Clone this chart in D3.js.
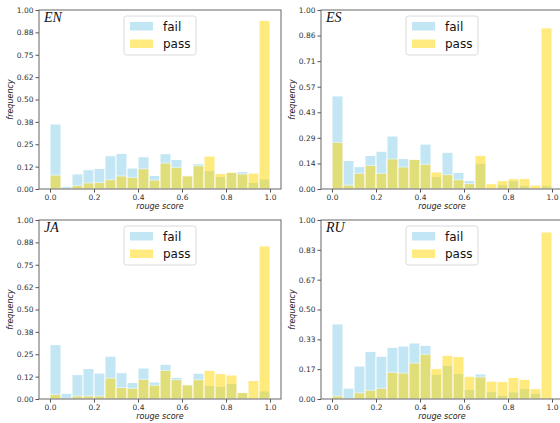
<!DOCTYPE html>
<html>
<head>
<meta charset="utf-8">
<script src="https://cdn.jsdelivr.net/npm/d3@7"></script>
<style>
  body { margin: 0; background: #fff; }
  svg { display: block; }
  .tick text { font-family: "DejaVu Sans", sans-serif; font-size: 7.5px; fill: #333; }
  .tick line { stroke: #555; }
  .lbl { font-family: "DejaVu Sans", sans-serif; font-size: 8px; font-style: italic; fill: #222; }
  .ttl { font-family: "Liberation Serif", serif; font-size: 14px; font-style: italic; fill: #111; }
  .leg { font-family: "DejaVu Sans", sans-serif; font-size: 12px; fill: #111; }
</style>
</head>
<body>
<div id="chart"></div>
<script>
// bin left edges (bin width 0.05)
const bins = [0, 0.05, 0.1, 0.15, 0.2, 0.25, 0.3, 0.35, 0.4, 0.45, 0.5, 0.55, 0.6, 0.65, 0.7, 0.75, 0.8, 0.85, 0.9, 0.95]
const binWidth = 0.05
const series = ["fail", "pass"]
const languages = ["EN", "ES", "JA", "RU"]

const failEN = [0.363, 0.013, 0.084, 0.108, 0.115, 0.186, 0.199, 0.117, 0.18, 0.076, 0.197, 0.165, 0.073, 0.141, 0.102, 0.069, 0.092, 0.097, 0.037, 0.056]
const passEN = [0.078, 0, 0.02, 0.034, 0.037, 0.052, 0.073, 0.065, 0.113, 0.05, 0.145, 0.121, 0.074, 0.13, 0.184, 0.087, 0.094, 0.084, 0.089, 0.942]

const failES = [0.52, 0.159, 0.125, 0.187, 0.211, 0.296, 0.17, 0.165, 0.251, 0.069, 0.205, 0.092, 0.047, 0.144, 0, 0.026, 0.046, 0.019, 0, 0.019]
const passES = [0.261, 0.022, 0.088, 0.132, 0.088, 0.168, 0.123, 0.166, 0.138, 0.095, 0.08, 0.052, 0.03, 0.188, 0.03, 0.047, 0.058, 0.058, 0.022, 0.90]

const failJA = [0.304, 0.032, 0.136, 0.17, 0.145, 0.239, 0.147, 0.092, 0.173, 0.095, 0.194, 0.121, 0.08, 0.144, 0.075, 0.071, 0.088, 0.037, 0.004, 0.045]
const passJA = [0.026, 0, 0.017, 0.017, 0.017, 0.117, 0.064, 0.06, 0.11, 0.077, 0.16, 0.108, 0.079, 0.108, 0.16, 0.142, 0.134, 0.036, 0.103, 0.855]

const failRU = [0.419, 0.061, 0.184, 0.266, 0.239, 0.289, 0.296, 0.313, 0.3, 0.138, 0.188, 0.142, 0.054, 0.14, 0.041, 0.021, 0.039, 0.058, 0.032, 0.008]
const passRU = [0.017, 0, 0.034, 0.049, 0.06, 0.149, 0.145, 0.201, 0.25, 0.17, 0.244, 0.237, 0.127, 0.123, 0.1, 0.097, 0.12, 0.11, 0.058, 0.933]

const xTicks = [0, 0.2, 0.4, 0.6, 0.8, 1.0]
const xTickLabels = ["0.0", "0.2", "0.4", "0.6", "0.8", "1.0"]

const yTicks9 = [0, 0.125, 0.25, 0.375, 0.5, 0.625, 0.75, 0.875, 1]
const yTickLabels9 = ["0.00", "0.12", "0.25", "0.38", "0.50", "0.62", "0.75", "0.88", "1.00"]
const yTicks8 = [0, 1 / 7, 2 / 7, 3 / 7, 4 / 7, 5 / 7, 6 / 7, 1]
const yTickLabels8 = ["0.00", "0.14", "0.29", "0.43", "0.57", "0.71", "0.86", "1.00"]
const yTicks7 = [0, 1 / 6, 2 / 6, 3 / 6, 4 / 6, 5 / 6, 1]
const yTickLabels7 = ["0.00", "0.17", "0.33", "0.50", "0.67", "0.83", "1.00"]

const panels = [
  { name: "EN", fail: failEN, pass: passEN, ticks: yTicks9, labels: yTickLabels9, left: 39, top: 10 },
  { name: "ES", fail: failES, pass: passES, ticks: yTicks8, labels: yTickLabels8, left: 321, top: 10 },
  { name: "JA", fail: failJA, pass: passJA, ticks: yTicks9, labels: yTickLabels9, left: 39, top: 220 },
  { name: "RU", fail: failRU, pass: passRU, ticks: yTicks7, labels: yTickLabels7, left: 321, top: 220 },
]

const colors = { fail: "#87ceeb", pass: "#ffd700" }
const W = 560
const H = 423
const width = 242
const height = 179

const svg = d3
  .select("#chart")
  .append("svg")
  .attr("width", W)
  .attr("height", H)

const xScale = d3.scaleLinear().domain([-0.05, 1.05]).range([0, width])
const yScale = d3.scaleLinear().domain([0, 1]).range([height, 0])

panels.forEach(p => {
  const g = svg.append("g").attr("transform", `translate(${p.left},${p.top})`)

  series.forEach(s => {
    g.append("g")
      .selectAll("rect")
      .data(p[s].map((v, i) => ({ x: bins[i], v })))
      .enter()
      .append("rect")
      .attr("x", d => xScale(d.x))
      .attr("width", xScale(binWidth) - xScale(0))
      .attr("y", d => yScale(d.v))
      .attr("height", d => yScale(0) - yScale(d.v))
      .attr("fill", colors[s])
      .attr("stroke", "#fff")
      .attr("stroke-width", 1)
      .attr("opacity", 0.5)
  })

  g.append("g")
    .attr("transform", `translate(0,${height})`)
    .call(
      d3
        .axisBottom(xScale)
        .tickValues(xTicks)
        .tickFormat((d, i) => xTickLabels[i])
        .tickSize(3.5)
        .tickPadding(2.5)
    )
    .call(a => a.select(".domain").remove())

  g.append("g")
    .call(
      d3
        .axisLeft(yScale)
        .tickValues(p.ticks)
        .tickFormat((d, i) => p.labels[i])
        .tickSize(3.5)
        .tickPadding(2)
    )
    .call(a => a.select(".domain").remove())

  g.append("rect")
    .attr("width", width)
    .attr("height", height)
    .attr("fill", "none")
    .attr("stroke", "#666")
    .attr("stroke-width", 1)

  g.append("text")
    .attr("class", "lbl")
    .attr("x", width / 2)
    .attr("y", height + 20)
    .attr("text-anchor", "middle")
    .text("rouge score")

  g.append("text")
    .attr("class", "lbl")
    .attr("transform", `translate(-26,${height / 2}) rotate(-90)`)
    .attr("text-anchor", "middle")
    .text("frequency")

  g.append("text")
    .attr("class", "ttl")
    .attr("x", 5)
    .attr("y", 12)
    .text(p.name)

  // legend, upper center
  const lg = g.append("g").attr("transform", `translate(${width / 2 - 36},6)`)
  lg.append("rect")
    .attr("width", 72)
    .attr("height", 39)
    .attr("rx", 2.5)
    .attr("fill", "#fff")
    .attr("fill-opacity", 0.8)
    .attr("stroke", "#d0d0d0")
    .attr("stroke-width", 0.8)
  series.forEach((s, i) => {
    lg.append("rect")
      .attr("x", 6)
      .attr("y", 6 + i * 17.5)
      .attr("width", 23)
      .attr("height", 8.5)
      .attr("fill", colors[s])
      .attr("opacity", 0.5)
    lg.append("text")
      .attr("class", "leg")
      .attr("x", 39)
      .attr("y", 14.5 + i * 17.5)
      .text(s)
  })
})
</script>
</body>
</html>
